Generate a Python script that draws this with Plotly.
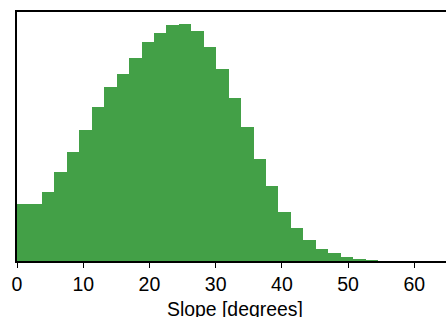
import plotly.graph_objects as go

# Histogram of slope (degrees); bin width
bin_width = 1.88
counts = [57, 57, 69.3, 89.3, 109, 131.7, 154.3, 174.7, 187.7, 203.7,
          219.7, 229, 237, 237.7, 230.3, 214.7, 192.3, 163.3, 134, 102,
          74.7, 49, 32.7, 21, 12.3, 8, 4.3, 2, 1]
x_ticks = [0, 10, 20, 30, 40, 50, 60]
x_label = "Slope [degrees]"

centers = [bin_width * (i + 0.5) for i in range(len(counts))]

fig = go.Figure(go.Bar(
    x=centers, y=counts, width=[bin_width] * len(counts),
    marker=dict(color="#43a047", line=dict(width=0)),
    hoverinfo="skip",
))

fig.update_layout(
    width=446, height=317,
    margin=dict(l=16.5, r=0, t=11.5, b=56, pad=0),
    paper_bgcolor="white", plot_bgcolor="white",
    bargap=0, showlegend=False,
    font=dict(family="Liberation Sans, Arial, sans-serif", size=19, color="black"),
)
fig.update_xaxes(
    range=[0, 64.78], tickvals=x_ticks, ticks="outside", ticklen=5, tickwidth=1.2,
    tickcolor="black", showline=True, linecolor="black", linewidth=1.5, mirror=True,
    showgrid=False, zeroline=False, automargin=False,
    tickfont=dict(size=19.5),
)
fig.update_yaxes(
    range=[0, max(counts) * 1.05], showticklabels=False, ticks="",
    showline=True, linecolor="black", linewidth=1.5, mirror=False,
    showgrid=False, zeroline=False, automargin=False,
)
fig.add_annotation(
    text=x_label, xref="paper", x=0.5, yref="paper", y=0,
    xanchor="center", yanchor="top", xshift=3, yshift=-35, showarrow=False,
    font=dict(size=19.4, color="black"),
)

fig.write_html(
    "out.html",
    config={"displayModeBar": False},
    post_script="document.body.style.margin='0';document.body.style.overflow='hidden';",
)
